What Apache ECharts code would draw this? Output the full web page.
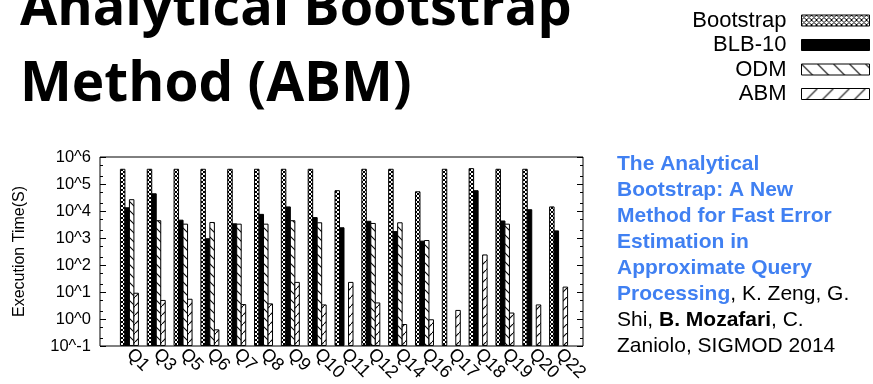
<!DOCTYPE html>
<html><head><meta charset="utf-8">
<script src="https://cdn.jsdelivr.net/npm/echarts@6/dist/echarts.min.js"></script>
<style>html,body{margin:0;padding:0;background:#fff}#c{width:873px;height:384px}</style>
</head><body><div id="c"></div>
<script>
const categories = ['Q1','Q3','Q5','Q6','Q7','Q8','Q9','Q10','Q11','Q12','Q14','Q16','Q17','Q18','Q19','Q20','Q22'];
const bootstrap = [3.5e5,3.5e5,3.5e5,3.5e5,3.5e5,3.5e5,3.5e5,3.5e5,5.6e4,3.5e5,3.5e5,5.1e4,3.5e5,3.7e5,3.5e5,3.5e5,1.4e4];
const blb10 = [1.3e4,4.3e4,4.5e3,920,3.3e3,7.4e3,1.4e4,5.6e3,2.35e3,4.1e3,1.7e3,750,null,5.6e4,4.2e3,1.1e4,1.8e3];
const odm = [2.6e4,4.3e3,3.2e3,3.7e3,3.2e3,3.2e3,4.3e3,3.6e3,null,3.4e3,3.6e3,790,null,null,3.2e3,null,null];
const abm = [8.7,4.7,5.2,0.38,3.3,3.5,22,3.2,22,3.8,0.6,0.9,2.0,230,1.6,3.2,14.7];
const yTickLabels = ['10^-1','10^0','10^1','10^2','10^3','10^4','10^5','10^6'];
const seriesNames = ['Bootstrap','BLB-10','ODM','ABM'];

const FONT = '"Liberation Sans", Arial, sans-serif';
const Y_MIN = 0.1, Y_MAX = 1e6;
const BAR_W = 4.5;

function makeTile(w, h, draw) {
  const c = document.createElement('canvas'); c.width = w; c.height = h;
  const ctx = c.getContext('2d');
  ctx.fillStyle = '#fff'; ctx.fillRect(0, 0, w, h);
  ctx.strokeStyle = '#000'; ctx.lineWidth = 1;
  draw(ctx, w, h);
  return c;
}
function crossTile(s) {
  return makeTile(s, s, (ctx, w, h) => {
    ctx.beginPath(); ctx.moveTo(-1, -1); ctx.lineTo(w + 1, h + 1);
    ctx.moveTo(-1, h + 1); ctx.lineTo(w + 1, -1); ctx.stroke();
  });
}
function backTile(s) {
  return makeTile(s, s, (ctx, w, h) => {
    ctx.lineWidth = 1.1;
    ctx.beginPath(); ctx.moveTo(-1, -1); ctx.lineTo(w + 1, h + 1); ctx.stroke();
  });
}
function fwdTile(s) {
  return makeTile(s, s, (ctx, w, h) => {
    ctx.lineWidth = 1.1;
    ctx.beginPath(); ctx.moveTo(-1, h + 1); ctx.lineTo(w + 1, -1); ctx.stroke();
  });
}
const pat = (c) => ({ image: c, repeat: 'repeat' });

const barFills = [pat(crossTile(4)), '#000', pat(backTile(9)), pat(fwdTile(9))];
const legendFills = [pat(crossTile(5)), '#000', pat(backTile(16)), pat(fwdTile(16))];
const seriesData = [bootstrap, blb10, odm, abm];

const minorVals = [];
for (let k = -1; k <= 5; k++) { minorVals.push(2 * Math.pow(10, k), 5 * Math.pow(10, k)); }

const logBase = { type: 'log', logBase: 10, min: Y_MIN, max: Y_MAX, interval: 1, splitLine: { show: false } };

function makeRender(si) {
  return function (params, api) {
    const v = api.value(1);
    if (v == null || isNaN(v)) return null;
    const top = api.coord([api.value(0), v]);
    const bottom = api.coord([api.value(0), Y_MIN]);
    const x = top[0] + (si - 2) * BAR_W;
    return {
      type: 'rect',
      shape: { x: x, y: top[1], width: BAR_W, height: bottom[1] - top[1] },
      style: { fill: barFills[si], stroke: '#000', lineWidth: 1 }
    };
  };
}

const chart = echarts.init(document.getElementById('c'), null, { renderer: 'canvas' });
chart.setOption({
  backgroundColor: '#fff',
  animation: false,
  grid: [
    { left: 100, right: 290, top: 157, bottom: 38, show: true, borderColor: '#000', borderWidth: 1, backgroundColor: 'transparent' },
    { left: 116, right: 301, top: 157, bottom: 38 },
    { left: 100, right: 290, top: 157, bottom: 38 }
  ],
  xAxis: [
    { gridIndex: 0, type: 'value', show: false, min: 0, max: 1 },
    { gridIndex: 1, type: 'category', data: categories,
      axisLine: { show: false }, axisTick: { show: false },
      axisLabel: { interval: 0, rotate: -45, fontSize: 18, color: '#000', fontFamily: FONT, margin: 6 } },
    { gridIndex: 2, type: 'value', show: false, min: 0, max: 1 }
  ],
  yAxis: [
    Object.assign({}, logBase, { gridIndex: 0, position: 'left',
      axisLine: { show: false },
      axisTick: { show: true, inside: true, length: 6, lineStyle: { color: '#000' } },
      axisLabel: { fontSize: 16.5, color: '#000', fontFamily: FONT, margin: 9,
        formatter: (v) => yTickLabels[Math.round(Math.log10(v)) + 1] },
      name: 'Execution Time(S)', nameLocation: 'middle', nameGap: 72,
      nameTextStyle: { fontSize: 16, color: '#000', fontFamily: FONT } }),
    Object.assign({}, logBase, { gridIndex: 0, position: 'right',
      axisLine: { show: false },
      axisTick: { show: true, inside: true, length: 6, lineStyle: { color: '#000' } },
      axisLabel: { show: false } }),
    Object.assign({}, logBase, { gridIndex: 2, position: 'left',
      axisLine: { show: false },
      axisTick: { show: true, inside: true, length: 3, customValues: minorVals, lineStyle: { color: '#000' } },
      axisLabel: { show: false } }),
    Object.assign({}, logBase, { gridIndex: 2, position: 'right',
      axisLine: { show: false },
      axisTick: { show: true, inside: true, length: 3, customValues: minorVals, lineStyle: { color: '#000' } },
      axisLabel: { show: false } }),
    Object.assign({}, logBase, { gridIndex: 1, show: false })
  ],
  legend: {
    orient: 'vertical', right: 3, top: 9, align: 'right', padding: 0,
    itemWidth: 68, itemHeight: 11, itemGap: 1.5, icon: 'rect',
    textStyle: { fontSize: 22, lineHeight: 23, color: '#000', fontFamily: FONT, padding: [0, 10, 0, 0] },
    data: seriesNames.map((n, i) => ({ name: n, itemStyle: { color: legendFills[i], borderColor: '#000', borderWidth: 1 } }))
  },
  series: seriesNames.map((n, i) => ({
    name: n, type: 'custom', xAxisIndex: 1, yAxisIndex: 4,
    encode: { x: 0, y: 1 },
    data: seriesData[i].map((v, j) => [j, v == null ? '-' : v]),
    itemStyle: { color: barFills[i], borderColor: '#000', borderWidth: 1 },
    renderItem: makeRender(i)
  })),
  graphic: [
    { type: 'text', left: 20, top: -17, silent: true,
      style: { text: 'Analytical Bootstrap', font: 'bold 54px "Open Sans", sans-serif', fill: '#000' } },
    { type: 'text', left: 20, top: 58, silent: true,
      style: { text: 'Method (ABM)', font: 'bold 55px "Open Sans", sans-serif', fill: '#000' } },
    { type: 'text', left: 617, top: 154, silent: true,
      style: {
        text: '{b|The Analytical}\n{b|Bootstrap: A New}\n{b|Method for Fast Error}\n{b|Estimation in}\n{b|Approximate Query}\n{b|Processing}{n|, K. Zeng, G.}\n{n|Shi, }{k|B. Mozafari}{n|, C.}\n{n|Zaniolo, SIGMOD 2014}',
        rich: {
          b: { fontWeight: 'bold', fill: '#4080f2', fontSize: 21, lineHeight: 26, fontFamily: FONT },
          n: { fontWeight: 'normal', fill: '#000', fontSize: 21, lineHeight: 26, fontFamily: FONT },
          k: { fontWeight: 'bold', fill: '#000', fontSize: 21, lineHeight: 26, fontFamily: FONT }
        }
      } }
  ]
});
</script>
</body></html>
